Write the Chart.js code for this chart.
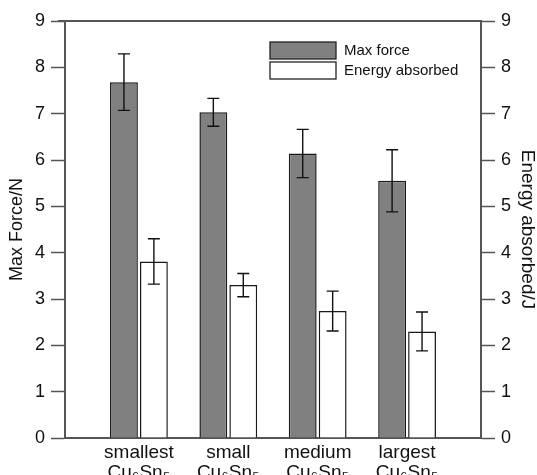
<!DOCTYPE html>
<html>
<head>
<meta charset="utf-8">
<script src="https://cdn.jsdelivr.net/npm/chart.js@4.4.1/dist/chart.umd.min.js"></script>
<style>
  html, body { margin: 0; padding: 0; background: #fff; }
  #wrap { width: 537px; height: 475px; }
</style>
</head>
<body>
<div id="wrap"><canvas id="chart"></canvas></div>
<script>
// data
var categories = [['smallest', 'Cu\u2086Sn\u2085'], ['small', 'Cu\u2086Sn\u2085'], ['medium', 'Cu\u2086Sn\u2085'], ['largest', 'Cu\u2086Sn\u2085']];
var maxForce = [7.68, 7.03, 6.14, 5.55];
var maxForceErr = [0.61, 0.30, 0.52, 0.67];
var energyAbsorbed = [3.81, 3.30, 2.74, 2.30];
var energyErr = [0.49, 0.25, 0.43, 0.42];
var yTicks = [0, 1, 2, 3, 4, 5, 6, 7, 8, 9];

var FONT = 'Liberation Sans, Arial, sans-serif';
var AXIS = '#555';

function points(vals) {
    return vals.map(function (v, i) { return {x: i + 1, y: v}; });
}

// draws the error bars using the dataset's own y scale
var errorBars = {
    id: 'errorBars',
    afterDatasetsDraw: function (chart) {
        var ctx = chart.ctx;
        ctx.save();
        ctx.strokeStyle = '#111';
        ctx.lineWidth = 1.4;
        chart.data.datasets.forEach(function (ds, di) {
            var meta = chart.getDatasetMeta(di);
            var ys = chart.scales[ds.yAxisID];
            meta.data.forEach(function (bar, i) {
                var v = ds.data[i].y, e = ds.errors[i];
                var yTop = ys.getPixelForValue(v + e);
                var yBot = ys.getPixelForValue(v - e);
                ctx.beginPath();
                ctx.moveTo(bar.x, yTop); ctx.lineTo(bar.x, yBot);
                ctx.moveTo(bar.x - 6, yTop); ctx.lineTo(bar.x + 6, yTop);
                ctx.moveTo(bar.x - 6, yBot); ctx.lineTo(bar.x + 6, yBot);
                ctx.stroke();
            });
        });
        ctx.restore();
    }
};

// top frame line + legend boxes inside the plot
var frame = {
    id: 'frame',
    afterDraw: function (chart) {
        var ctx = chart.ctx, a = chart.chartArea;
        ctx.save();
        ctx.strokeStyle = AXIS;
        ctx.lineWidth = 2;
        ctx.beginPath();
        ctx.moveTo(a.left - 7, a.top); ctx.lineTo(a.right, a.top);
        ctx.stroke();

        var bx = a.right - 211, by = a.top + 21;
        ctx.font = '15px ' + FONT;
        ctx.textBaseline = 'middle';
        chart.data.datasets.forEach(function (ds, i) {
            var y = by + i * 20;
            ctx.fillStyle = ds.backgroundColor;
            ctx.fillRect(bx, y, 66, 17);
            ctx.strokeStyle = '#222';
            ctx.lineWidth = 1.3;
            ctx.strokeRect(bx, y, 66, 17);
            ctx.fillStyle = '#111';
            ctx.fillText(ds.label, bx + 74, y + 9);
        });
        ctx.restore();
    }
};

var yScale = function (pos, title, width, size, pad, lh) {
    return {
        position: pos,
        min: 0, max: 9,
        afterBuildTicks: function (s) { s.ticks = yTicks.map(function (v) { return {value: v}; }); },
        afterFit: function (s) { s.width = width; },
        grid: { drawOnChartArea: false, drawTicks: true, tickLength: 14, tickColor: AXIS, tickWidth: 1.5 },
        border: { display: true, color: AXIS, width: 2 },
        ticks: { font: { family: FONT, size: 18 }, color: '#111', padding: 6 },
        title: { display: true, text: title, font: { family: FONT, size: size, lineHeight: lh }, color: '#111', padding: { top: pad, bottom: 0 } }
    };
};

new Chart(document.getElementById('chart'), {
    type: 'bar',
    data: {
        datasets: [
            { label: 'Max force', data: points(maxForce), errors: maxForceErr, yAxisID: 'y',
              backgroundColor: '#808080', borderColor: '#1a1a1a', borderWidth: 1.5 },
            { label: 'Energy absorbed', data: points(energyAbsorbed), errors: energyErr, yAxisID: 'y2',
              backgroundColor: '#ffffff', borderColor: '#1a1a1a', borderWidth: 1.5 }
        ]
    },
    options: {
        responsive: true,
        maintainAspectRatio: false,
        animation: false,
        layout: { padding: { top: 21, left: 0, right: 0, bottom: 0 } },
        datasets: { bar: { categoryPercentage: 0.67, barPercentage: 0.93 } },
        plugins: { legend: { display: false }, tooltip: { enabled: false } },
        scales: {
            x: {
                type: 'linear',
                min: 0.173, max: 4.827,
                offset: false,
                afterBuildTicks: function (s) { s.ticks = categories.map(function (c, i) { return {value: i + 1}; }); },
                afterFit: function (s) { s.height = 37; },
                grid: { display: false },
                border: { display: true, color: AXIS, width: 2 },
                ticks: {
                    font: { family: FONT, size: 19, lineHeight: 1.05 },
                    color: '#111',
                    padding: -3,
                    maxRotation: 0,
                    autoSkip: false,
                    callback: function (v) { return categories[v - 1] || ''; }
                }
            },
            y: yScale('left', 'Max Force/N', 65, 18, 6, 1.2),
            y2: yScale('right', 'Energy absorbed/J', 56, 19, 0, 1.05)
        }
    },
    plugins: [errorBars, frame]
});
</script>
</body>
</html>
